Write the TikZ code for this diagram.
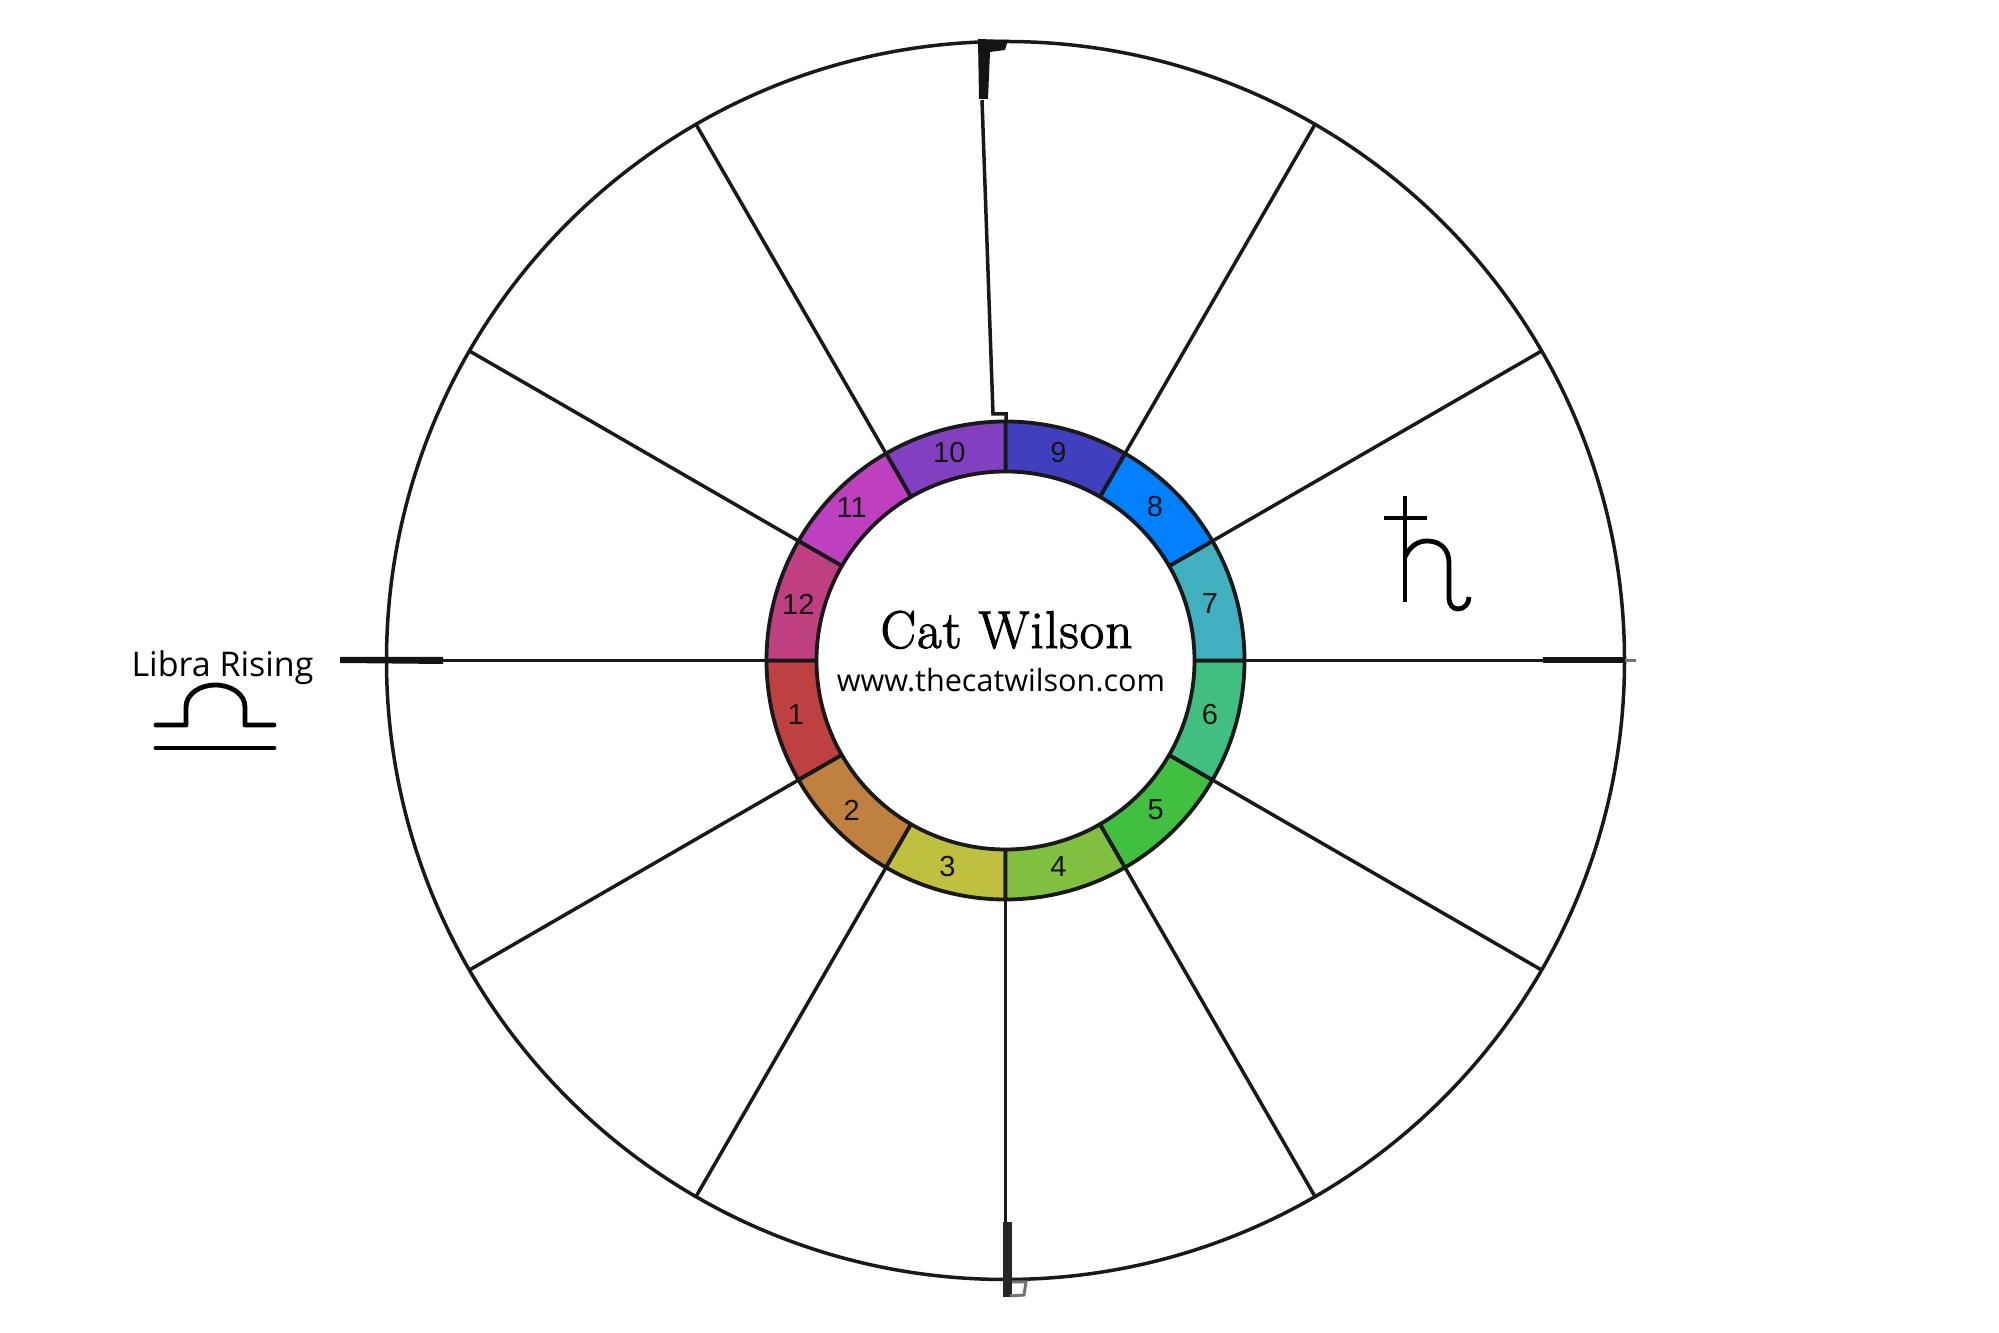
\documentclass[tikz,border=0pt]{standalone}
\usepackage{fontspec}
\setsansfont{Open Sans}
\newfontfamily\digitfont{Liberation Sans}
\newfontfamily\namefont[LetterSpace=2.3,FakeBold=2]{Latin Modern Roman}
\tikzset{
  x=0.5pt,y=0.5pt,
  ink/.style={draw=black!90,line width=1.75pt},
  glyph/.style={draw=black,line width=2.4pt,line join=round},
  housenum/.style={font=\digitfont\fontsize{14.5}{16}\selectfont,text=black!92,inner sep=0pt,anchor=center},
}
\begin{document}
\begin{tikzpicture}
\useasboundingbox (0,0) rectangle (1999,1333);
\fill[white] (0,0) rectangle (1999,1333);
% outer wheel and spokes
\begin{scope}[shift={(1005.5,672.5)}]
  \draw[ink] (0,0) circle[radius=619];
  \foreach \a in {0,30,60,120,150,180,210,240,270,300,330}
    \draw[ink] (\a:239) -- (\a:619);
  % ring segments
  \foreach \a/\c in {180/BF4040,210/BF8040,240/BFBF40,270/80BF40,300/40BF40,330/40BF80,
                     0/40B0BF,30/0080FF,60/4040BF,90/8040BF,120/BF40BF,150/BF4080}{
    \definecolor{segcol}{HTML}{\c}
    \filldraw[fill=segcol,draw=black!90,line width=1.9pt,line join=round]
      (\a:239) arc[start angle=\a,end angle=\a+30,radius=239]
      -- ({\a+30}:189) arc[start angle=\a+30,end angle=\a,radius=189] -- cycle;
  }
\end{scope}
% house numbers
\foreach \n/\zx/\zy in {10/628/157,9/955/157,8/1245/320,7/1410/610,6/1410/945,5/1247/1230,
                        4/955/1400,3/622/1400,2/335/1232,1/168/945,12/175/612,11/335/322}
  \node[housenum] (h\n) at ({740+\zx/3},{1333-400-\zy/3}) {\n};
% top line with jog
\coordinate (tA) at (982,1233);
\coordinate (tB) at (993,919);
\coordinate (tC) at (1006,919);
\coordinate (tD) at (1006,911);
\draw[ink,line join=miter] (tA) -- (tB) -- (tC) -- (tD);
% angle marks
\fill[black!92] (978,1294) -- (1008,1293) -- (1005,1283) -- (990,1281) -- (988,1234) -- (979,1234) -- cycle;
\fill[black!85] (1003,111) -- (1012,111) -- (1012,36) -- (1003,36) -- cycle;
\draw[black!55,line width=1.5pt] (1012,51) -- (1026,51) -- (1024,38) -- (1010,37);
\fill[black!92] (340,676) -- (443,676) -- (443,669) -- (340,670) -- cycle;
\fill[black!92] (1543,669.5) -- (1625,669.5) -- (1625,675.5) -- (1543,675.5) -- cycle;
\draw[black!55,line width=1.5pt] (1625,672.5) -- (1636,672.5);
% centre text
\node[inner sep=0pt,anchor=base] (name) at (1006.5,685)
  {\namefont\fontsize{26.5}{29}\selectfont Cat Wilson};
\node[inner sep=0pt,anchor=base] (site) at (1001,641.5)
  {\sffamily\fontsize{15.3}{18}\selectfont www.thecatwilson.com};
% Libra
\node[inner sep=0pt,anchor=base] (libra) at (222.5,656.5)
  {\sffamily\fontsize{17}{20}\selectfont Libra Rising};
\draw[glyph,line cap=round] (156,608) -- (186,608) -- (186,626)
  .. controls (186,639) and (200,648) .. (215,648)
  .. controls (231,648) and (245,639) .. (245,626) -- (245,608) -- (274,608);
\draw[glyph,line cap=round] (156,585) -- (274,585);
% Saturn
\draw[glyph] (1405,837) -- (1405,731);
\draw[glyph] (1384,815) -- (1427,815);
\draw[glyph] (1405,776) .. controls (1410,787) and (1418,792) .. (1427,792)
  .. controls (1441,792) and (1449,783) .. (1449,770) -- (1449,735)
  .. controls (1449,728) and (1453,724) .. (1458,724)
  .. controls (1464,724) and (1469,729) .. (1469,736);
\end{tikzpicture}
\end{document}
